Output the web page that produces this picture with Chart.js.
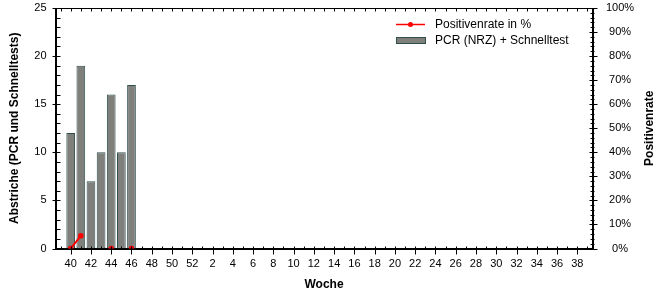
<!DOCTYPE html>
<html>
<head>
<meta charset="utf-8">
<script src="https://cdn.jsdelivr.net/npm/chart.js@4.4.0/dist/chart.umd.min.js"></script>
<style>
html,body{margin:0;padding:0;background:#fff;}
#wrap{width:666px;height:300px;position:relative;}
</style>
</head>
<body>
<div id="wrap"><canvas id="c" width="666" height="300"></canvas></div>
<script>
// Calendar weeks (first slot is the preceding week 39, unlabeled)
const weeks = [39,40,41,42,43,44,45,46,47,48,49,50,51,52,1,2,3,4,5,6,7,8,9,10,11,12,13,14,15,16,17,18,19,20,21,22,23,24,25,26,27,28,29,30,31,32,33,34,35,36,37,38,39];
// Swabs (PCR NRZ + rapid tests) per week
const swabs = [null,12,19,7,10,16,10,17];
// Positivity rate in % per week
const positiveRate = [null,0,5.3,null,null,0,null,0];
const leftTicks = [0,5,10,15,20,25];
const rightTicks = [0,10,20,30,40,50,60,70,80,90,100];

const FONT = "'Liberation Sans', Arial, sans-serif";
const barFill = '#7f7f7c';
const barBorder = '#2f4f4f';
const lineColor = '#ff0000';

const labels = weeks.map(String);
function pad(arr){ const out = []; for (let i=0;i<weeks.length;i++) out.push(i < arr.length ? arr[i] : null); return out; }
function noPad(s){ s.paddingTop = 0; s.paddingBottom = 0; s.paddingLeft = 0; s.paddingRight = 0; }

const extras = {
  id: 'extras',
  afterDraw(chart) {
    const ctx = chart.ctx, a = chart.chartArea;
    const xs = chart.scales.x, ys = chart.scales.y, y2 = chart.scales.y2;
    ctx.save();
    ctx.strokeStyle = '#000';
    ctx.lineWidth = 1;
    ctx.beginPath();
    const top = Math.round(a.top) + 0.5;
    const bot = Math.round(a.bottom) + 0.5;
    const lx = Math.round(a.left) + 0.5;
    const rx = Math.round(a.right) + 0.5;
    // frame
    ctx.moveTo(lx, top); ctx.lineTo(rx, top);
    ctx.moveTo(lx, top); ctx.lineTo(lx, bot);
    ctx.moveTo(lx, bot); ctx.lineTo(rx, bot);
    ctx.moveTo(rx, top); ctx.lineTo(rx, bot);
    // x ticks
    for (let i = 0; i < weeks.length; i++) {
      const px = Math.round(xs.getPixelForValue(i)) + 0.5;
      const major = i > 0 && weeks[i] % 2 === 0;
      if (major) { ctx.moveTo(px, bot - 3); ctx.lineTo(px, bot + 5); }
      else { ctx.moveTo(px, bot - 3); ctx.lineTo(px, bot); }
      ctx.moveTo(px, top); ctx.lineTo(px, top + 3);
    }
    // left y ticks
    for (let v = 0; v <= 25; v++) {
      const py = Math.round(ys.getPixelForValue(v)) + 0.5;
      if (v % 5 === 0) { ctx.moveTo(lx - 4, py); ctx.lineTo(lx + 4, py); }
      else { ctx.moveTo(lx, py); ctx.lineTo(lx + 4, py); }
    }
    // right y ticks
    for (let v = 0; v <= 100; v += 2) {
      const py = Math.round(y2.getPixelForValue(v)) + 0.5;
      if (v % 10 === 0) { ctx.moveTo(rx - 4, py); ctx.lineTo(rx + 4, py); }
      else { ctx.moveTo(rx - 3, py); ctx.lineTo(rx + 1, py); }
    }
    ctx.stroke();

    // right axis title (reads bottom to top)
    ctx.fillStyle = '#000';
    ctx.font = 'bold 12px ' + FONT;
    ctx.textAlign = 'center';
    ctx.textBaseline = 'middle';
    ctx.save();
    ctx.translate(650, (a.top + a.bottom) / 2);
    ctx.rotate(-Math.PI / 2);
    ctx.fillText('Positivenrate', 0, 0);
    ctx.restore();

    // legend
    const ds = chart.data.datasets;
    ctx.font = '12px ' + FONT;
    ctx.textAlign = 'left';
    ctx.textBaseline = 'middle';
    ctx.strokeStyle = ds[0].borderColor;
    ctx.lineWidth = 1.5;
    ctx.beginPath(); ctx.moveTo(396, 24.5); ctx.lineTo(425, 24.5); ctx.stroke();
    ctx.fillStyle = ds[0].pointBackgroundColor;
    ctx.beginPath(); ctx.arc(410.5, 24.5, 2.5, 0, Math.PI * 2); ctx.fill();
    ctx.fillStyle = '#000';
    ctx.fillText(ds[0].label, 435, 24.5);
    ctx.fillStyle = ds[1].backgroundColor;
    ctx.fillRect(396.5, 37.5, 29, 6);
    ctx.strokeStyle = ds[1].borderColor;
    ctx.lineWidth = 1;
    ctx.strokeRect(396.5, 37.5, 29, 6);
    ctx.fillStyle = '#000';
    ctx.fillText(ds[1].label, 435, 40.5);
    ctx.restore();
  }
};

new Chart(document.getElementById('c'), {
  type: 'bar',
  data: {
    labels: labels,
    datasets: [
      {
        type: 'line',
        label: 'Positivenrate in %',
        data: pad(positiveRate),
        yAxisID: 'y2',
        borderColor: lineColor,
        backgroundColor: lineColor,
        pointBackgroundColor: lineColor,
        pointBorderColor: lineColor,
        pointRadius: 2.8,
        pointBorderWidth: 0,
        borderWidth: 2,
        spanGaps: false,
        clip: 0,
        order: 0
      },
      {
        type: 'bar',
        label: 'PCR (NRZ) + Schnelltest',
        data: pad(swabs),
        yAxisID: 'y',
        backgroundColor: barFill,
        borderColor: barBorder,
        borderWidth: 1,
        borderSkipped: false,
        barPercentage: 0.86,
        categoryPercentage: 1.0,
        order: 1
      }
    ]
  },
  options: {
    responsive: false,
    animation: false,
    devicePixelRatio: 1,
    layout: { padding: { top: 8, left: 0, right: 0, bottom: 0 } },
    plugins: { legend: { display: false }, tooltip: { enabled: false } },
    scales: {
      x: {
        type: 'category',
        offset: true,
        grid: { display: false, drawTicks: false },
        border: { display: true, color: '#000' },
        ticks: {
          autoSkip: false,
          maxRotation: 0,
          minRotation: 0,
          padding: 9,
          color: '#000',
          font: { family: FONT, size: 11 },
          callback: function(v, i) { return (i > 0 && weeks[i] % 2 === 0) ? String(weeks[i]) : ''; }
        },
        title: { display: true, text: 'Woche', color: '#000', font: { family: FONT, size: 12, weight: 'bold' }, padding: { top: 0, bottom: 8 } },
        afterFit: function(s) { s.height = 51.5; noPad(s); }
      },
      y: {
        position: 'left',
        min: 0, max: 25,
        grid: { display: false, drawTicks: false },
        border: { display: true, color: '#000' },
        afterBuildTicks: function(s) { s.ticks = leftTicks.map(v => ({ value: v })); },
        ticks: { padding: 9, color: '#000', font: { family: FONT, size: 11 } },
        title: { display: true, text: 'Abstriche (PCR und Schnelltests)', color: '#000', font: { family: FONT, size: 12, weight: 'bold' }, padding: { top: 7, bottom: 0 } },
        afterFit: function(s) { s.width = 55.5; noPad(s); }
      },
      y2: {
        position: 'right',
        min: 0, max: 100,
        grid: { display: false, drawTicks: false },
        border: { display: true, color: '#000' },
        afterBuildTicks: function(s) { s.ticks = rightTicks.map(v => ({ value: v })); },
        ticks: { padding: 13.5, crossAlign: 'center', color: '#000', font: { family: FONT, size: 11 }, callback: v => v + '%' },
        afterFit: function(s) { s.width = 73.5; noPad(s); }
      }
    }
  },
  plugins: [extras]
});
</script>
</body>
</html>
